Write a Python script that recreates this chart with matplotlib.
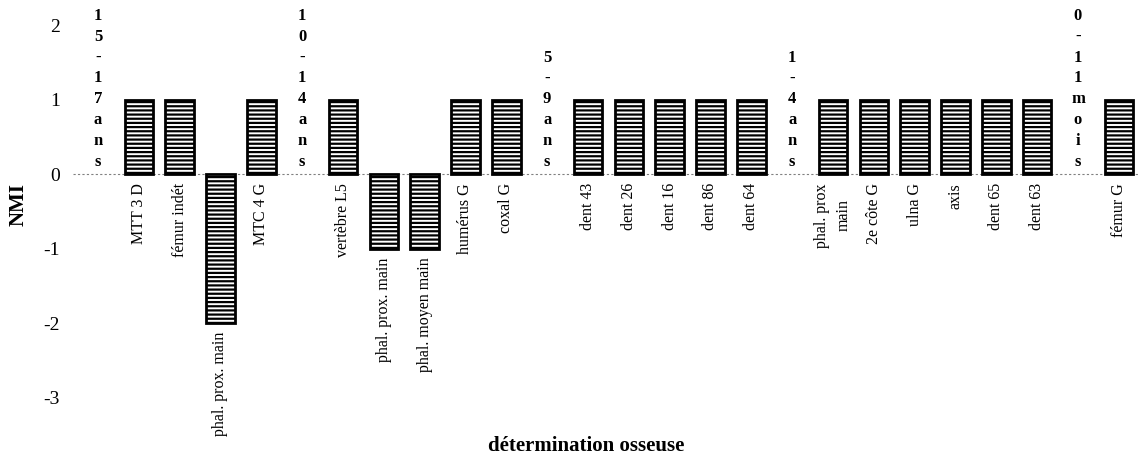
import matplotlib.pyplot as plt

plt.rcParams['font.family'] = ['Liberation Serif', 'DejaVu Serif']
plt.rcParams['hatch.linewidth'] = 1.6
plt.rcParams['axes.unicode_minus'] = False

# age groups, bones found in each, and NMI per bone
groups = ["15-17 ans", "10-14 ans", "5-9 ans", "1-4 ans", "0-11 mois"]
bones = [
    ["MTT 3 D", "fémur indét", "phal. prox. main", "MTC 4 G"],
    ["vertèbre L5", "phal. prox. main", "phal. moyen main", "humérus G", "coxal G"],
    ["dent 43", "dent 26", "dent 16", "dent 86", "dent 64"],
    ["phal. prox\nmain", "2e côte G", "ulna G", "axis", "dent 65", "dent 63"],
    ["fémur G"],
]
nmi = [
    [1, 1, -2, 1],
    [1, -1, -1, 1, 1],
    [1, 1, 1, 1, 1],
    [1, 1, 1, 1, 1, 1],
    [1],
]

fig = plt.figure(figsize=(11.43, 4.65), dpi=100)
ax = fig.add_axes([0.0643, 0.145, 0.9324, 0.801])

pos = 0
for g, names, vals in zip(groups, bones, nmi):
    # age group written vertically in the empty slot
    ax.text(pos, 0.06, "\n".join(g.replace(" ", "")), ha='center', va='bottom',
            fontsize=12, fontweight='bold', linespacing=1.4)
    pos += 1
    for name, v in zip(names, vals):
        ax.bar(pos, v, width=0.7, color='white', edgecolor='black',
               hatch='----', linewidth=2)
        ax.text(pos, min(v, 0) - 0.12, name, rotation=90, ha='center', va='top',
                fontsize=11.5, multialignment='center', linespacing=1.45)
        pos += 1

ax.axhline(0, color='gray', lw=0.8, ls=(0, (2, 2)), zorder=0)
ax.set_xlim(-0.6, pos - 0.5)
ax.set_ylim(-3, 2)
ax.set_yticks([-3, -2, -1, 0, 1, 2])
ax.set_xticks([])
ax.tick_params(axis='y', length=0, labelsize=14, pad=10)
for s in ax.spines.values():
    s.set_visible(False)

fig.text(0.016, 0.56, "NMI", rotation=90, ha='center', va='center',
         fontsize=15, fontweight='bold')
fig.text(0.513, 0.04, "détermination osseuse", ha='center', va='center',
         fontsize=15, fontweight='bold')

fig.savefig("out.png", dpi=100)
